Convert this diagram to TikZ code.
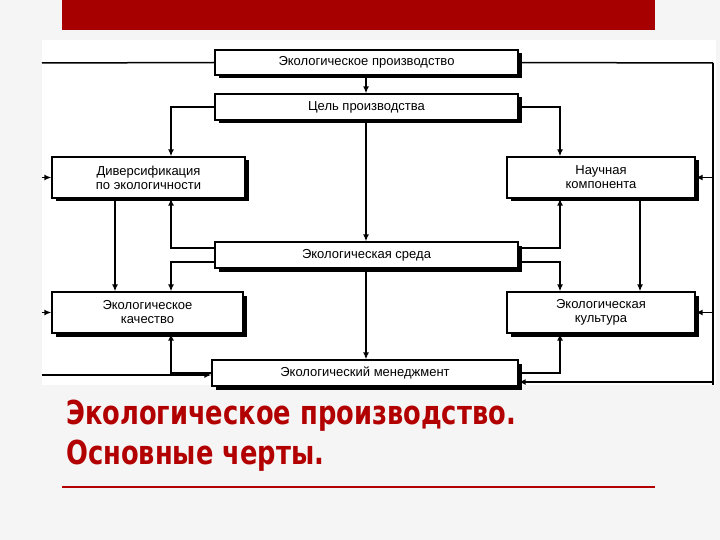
\documentclass[tikz,border=0pt]{standalone}
\usepackage{fontspec}
\setmainfont{Liberation Sans}
\newfontfamily\titlefont[FakeStretch=0.78]{DejaVu Sans}
\usetikzlibrary{arrows.meta,shadows}
\begin{document}
\begin{tikzpicture}[x=1pt,y=-1pt,
  box/.style={draw=black,line width=1.3pt,fill=white,align=center,inner sep=0pt,
    font=\fontsize{13}{14}\selectfont,
    drop shadow={shadow xshift=3.5pt,shadow yshift=-3.5pt,fill=black,opacity=1}},
  ln/.style={line width=1.5pt},
  arr/.style={line width=1.5pt,-{Latex[length=7pt,width=6pt]}}]
\useasboundingbox (0,0) rectangle (720,540);
\fill[gray!8] (0,0) rectangle (720,540);
\fill[white] (42,40) rectangle (716,385);
\fill[red!65!black] (62,0) rectangle (655,30);
% boxes
\node[box,minimum width=303,minimum height=25] (top) at (366.5,62.5) {Экологическое производство};
\node[box,minimum width=303,minimum height=26] (goal) at (366.5,107) {Цель производства};
\node[box,minimum width=193,minimum height=41] (div) at (148.5,177.5) {Диверсификация\\по экологичности};
\node[box,minimum width=188,minimum height=41] (sci) at (601,177.5) {Научная\\компонента};
\node[box,minimum width=303,minimum height=26] (env) at (366.5,255) {Экологическая среда};
\node[box,minimum width=191,minimum height=41] (qual) at (147.5,312.5) {Экологическое\\качество};
\node[box,minimum width=188,minimum height=41] (cult) at (601,312.5) {Экологическая\\культура};
\node[box,minimum width=306,minimum height=26] (man) at (365,373) {Экологический менеджмент};
% helper coordinates
\coordinate (L) at (42,0);
\coordinate (R) at (713,0);
\coordinate (xm) at (366,0);
\coordinate (xa) at (115,0);
\coordinate (xb) at (171,0);
\coordinate (xc) at (560,0);
\coordinate (xd) at (640,0);
\coordinate (ytop) at (0,63);
\coordinate (ybot) at (0,375);
\coordinate (yrb) at (0,382);
\coordinate (yeu) at (0,248);
\coordinate (yel) at (0,262);
\coordinate (Ltop) at (L|-ytop);
\coordinate (Rtop) at (R|-ytop);
\coordinate (Rbot) at (713,385);
% frame lines
\draw[ln] (Ltop) -- (top.west);
\draw[ln] (top.east) -- (Rtop);
\draw[ln] (Rtop) -- (Rbot);
\draw[arr] (L|-div.west) -- (div.west);
\draw[arr] (L|-qual.west) -- (qual.west);
\draw[arr] (L|-ybot) -- (man.west|-ybot);
\draw[arr] (R|-sci.east) -- (sci.east);
\draw[arr] (R|-cult.east) -- (cult.east);
\draw[arr] (R|-yrb) -- (man.east|-yrb);
% central
\draw[arr] (xm|-top.south) -- (xm|-goal.north);
\draw[arr] (xm|-goal.south) -- (xm|-env.north);
\draw[arr] (xm|-env.south) -- (xm|-man.north);
\draw[arr] (goal.west) -| (xb|-div.north);
\draw[arr] (goal.east) -| (xc|-sci.north);
\draw[arr] (xa|-div.south) -- (xa|-qual.north);
\draw[arr] (xd|-sci.south) -- (xd|-cult.north);
\draw[arr] (env.west|-yeu) -| (xb|-div.south);
\draw[arr] (env.west|-yel) -| (xb|-qual.north);
\draw[arr] (env.east|-yeu) -| (xc|-sci.south);
\draw[arr] (env.east|-yel) -| (xc|-cult.north);
\draw[arr] (man.west) -| (xb|-qual.south);
\draw[arr] (man.east) -| (xc|-cult.south);
% title
\node[anchor=north west,align=left,inner sep=0pt,text=red!70!black,
  font=\titlefont\bfseries\fontsize{33}{40}\selectfont] (title) at (66,400)
  {Экологическое производство.\\Основные черты.};
\draw[red!70!black,line width=1.2pt] (62,487) -- (655,487);
\end{tikzpicture}
\end{document}
